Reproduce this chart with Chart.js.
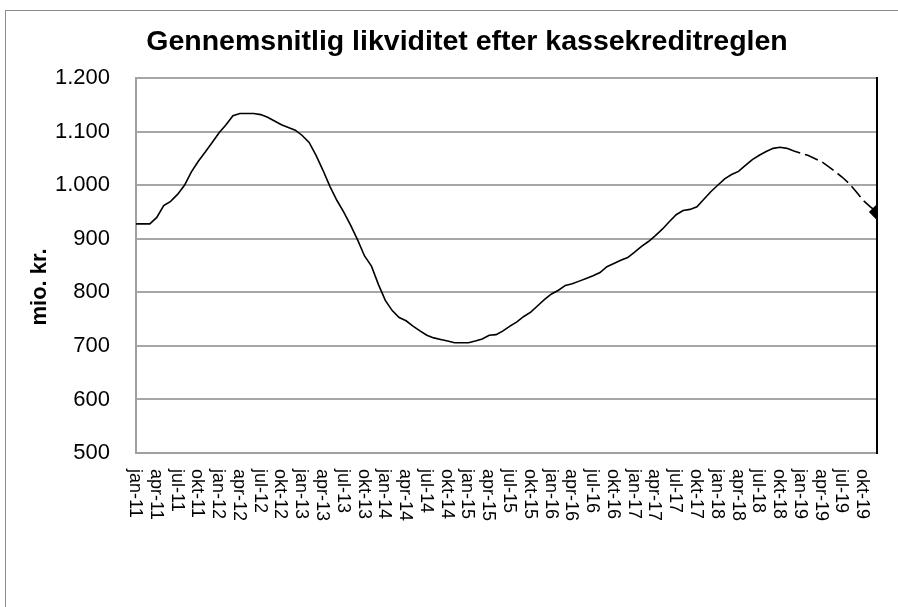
<!DOCTYPE html>
<html>
<head>
<meta charset="utf-8">
<script src="https://cdn.jsdelivr.net/npm/chart.js@4.4.1/dist/chart.umd.min.js"></script>
<style>
  html, body { margin: 0; padding: 0; overflow: hidden; background: #fff; width: 898px; height: 607px; }
  #frame { position: absolute; left: 5px; top: 10px; width: 1000px; height: 700px; border-left: 1px solid #8c8c8c; border-top: 1px solid #8c8c8c; }
  #wrap { position: absolute; left: 0; top: 0; width: 934px; height: 607px; }
</style>
</head>
<body>
<div id="frame"></div>
<div id="wrap"><canvas id="chart" width="934" height="607"></canvas></div>
<script>
const months = ["jan", "feb", "mar", "apr", "maj", "jun", "jul", "aug", "sep", "okt", "nov", "dec"];
const years = ["11", "12", "13", "14", "15", "16", "17", "18", "19"];
const monthLabels = years.flatMap(y => months.map(m => m + "-" + y));

// mio. kr., monthly jan-11 .. dec-19
const liquidity = [
  928, 928, 928, 940, 962, 970, 983, 1000, 1025, 1045, 1062, 1080,
  1098, 1113, 1130, 1134, 1134, 1134, 1132, 1127, 1120, 1113, 1108, 1103,
  1093, 1080, 1056, 1028, 998, 972, 950, 925, 898, 868, 849, 815,
  785, 766, 753, 747, 737, 728, 720, 715, 712, 709, 706, 706,
  706, 709, 713, 720, 721, 728, 737, 745, 755, 763, 775, 787,
  797, 804, 813, 816, 821, 826, 831, 837, 848, 854, 860, 865,
  875, 886, 895, 906, 918, 932, 945, 953, 955, 960, 974, 988,
  1000, 1012, 1020, 1026, 1037, 1048, 1056, 1063, 1069, 1071, 1069, 1064,
  1060, 1056, 1050, 1044, 1035, 1025, 1015, 1003, 988, 972, 960, 950
];
const dashFrom = 94; // forecast part drawn dashed
const labelEvery = 3;

const font = "'Liberation Sans', Arial, sans-serif";
Chart.defaults.font.family = font;
Chart.defaults.color = "#000";

function thousands(v) {
  if (v >= 1000) return Math.floor(v / 1000) + "." + String(v % 1000).padStart(3, "0");
  return String(v);
}

// x labels read top-to-bottom, like the original
const downLabels = {
  id: "downLabels",
  afterDraw(chart) {
    const xs = chart.scales.x;
    const ctx = chart.ctx;
    ctx.save();
    ctx.font = "18px " + font;
    ctx.fillStyle = "#000";
    ctx.textAlign = "left";
    ctx.textBaseline = "middle";
    for (let i = 0; i < monthLabels.length; i += labelEvery) {
      const x = xs.getPixelForValue(i);
      ctx.save();
      ctx.translate(x - 1, xs.top + 16);
      ctx.rotate(Math.PI / 2);
      ctx.fillText(monthLabels[i], 0, 0);
      ctx.restore();
    }
    ctx.restore();
  }
};

const last = liquidity.length - 1;

new Chart(document.getElementById("chart"), {
  type: "line",
  data: {
    labels: monthLabels,
    datasets: [{
      data: liquidity,
      borderColor: "#000",
      backgroundColor: "#000",
      borderWidth: 1.6,
      tension: 0,
      clip: 0,
      pointStyle: "rectRot",
      pointRadius: ctx => ctx.dataIndex === last ? 7 : 0,
      pointHoverRadius: 0,
      segment: {
        borderDash: ctx => ctx.p0DataIndex >= dashFrom ? [14, 5] : undefined
      }
    }]
  },
  options: {
    responsive: false,
    animation: false,
    events: [],
    layout: { padding: 0 },
    plugins: {
      legend: { display: false },
      tooltip: { enabled: false },
      title: {
        display: true,
        text: "Gennemsnitlig likviditet efter kassekreditreglen",
        font: { size: 28.5, weight: "bold" },
        color: "#000",
        padding: { top: 25, bottom: 19 }
      }
    },
    scales: {
      x: {
        offset: false,
        grid: { display: false, drawTicks: false },
        border: { display: true, color: "#a0a0a0", width: 2 },
        ticks: { display: false },
        afterFit: s => { s.height = 154; }
      },
      y: {
        min: 500,
        max: 1200,
        grid: { color: "#a6a6a6", lineWidth: 2, drawTicks: false },
        border: { display: true, color: "#a0a0a0", width: 2 },
        ticks: {
          stepSize: 100,
          padding: 26,
          font: { size: 22 },
          callback: v => thousands(v)
        },
        title: {
          display: true,
          // trailing spaces push the rotated title a little below centre, as in the original
          text: "mio. kr.\u00a0\u00a0\u00a0\u00a0\u00a0\u00a0\u00a0",
          font: { size: 22, weight: "bold" },
          padding: { top: 27, bottom: 0 }
        },
        afterFit: s => { s.width = 136; }
      },
      y2: {
        position: "right",
        min: 500,
        max: 1200,
        grid: { drawOnChartArea: false, drawTicks: false },
        border: { display: true, color: "#000", width: 2 },
        ticks: { display: false },
        afterFit: s => { s.width = 57; }
      }
    }
  },
  plugins: [downLabels]
});
</script>
</body>
</html>
